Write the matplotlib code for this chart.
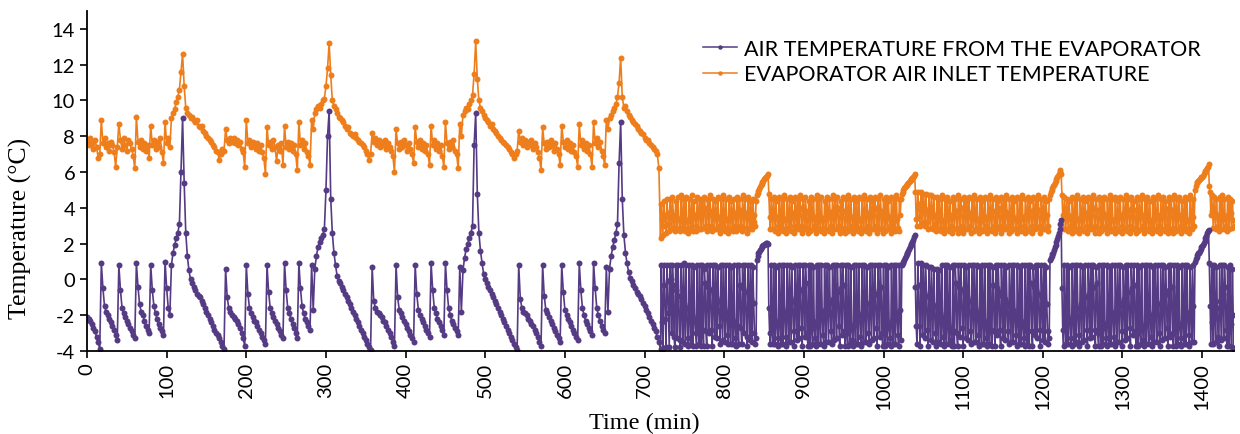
import numpy as np
import matplotlib
matplotlib.use("Agg")
import matplotlib.pyplot as plt

# ---------------- DATA ----------------
# First half: readings every 2 min (t = 0 ... 718)
outlet_c0 = [-2.1, -2.2, -2.3, -2.5, -2.7, -2.9, -3.2, -3.5, -3.9,
             0.9, -0.5, -1.5, -1.8, -2.0, -2.2, -2.4, -2.6, -2.8, -3.1, -3.4,
             0.8, -0.6, -1.6, -1.9, -2.1, -2.3, -2.5, -2.7, -2.9, -3.1, -3.3,
             0.9, -0.4, -1.4, -1.8, -2.0, -2.3, -2.6, -2.8, -3.0,
             0.8, -0.6, -1.5, -1.9, -2.2, -2.5, -2.7, -2.9, -3.1,
             1.0, -0.5, -1.6, -2.0,
             0.8, 1.5, 1.9, 2.3, 2.6, 3.1, 6.0]
outlet_c1 = [9.0, 5.4, 2.6, 1.3, 0.5, 0.0, -0.2, -0.4, -0.6, -0.8, -0.9, -1.0, -1.2, -1.4,
             -1.6, -1.8, -2.0, -2.2, -2.4, -2.6, -2.8, -3.0, -3.1, -3.3, -3.5, -3.7, -3.9,
             0.6, -1.0, -1.6, -1.8, -2.0, -2.1, -2.2, -2.3, -2.5, -2.7, -3.0, -3.3, -3.7,
             0.8, -0.8, -1.6, -1.9, -2.1, -2.3, -2.4, -2.6, -2.8, -3.0, -3.2, -3.4, -3.6,
             0.8, -0.7, -1.6, -1.9, -2.1, -2.3, -2.5, -2.7, -2.9, -3.1, -3.3,
             0.9, -0.6, -1.6, -1.9, -2.2, -2.5, -2.7, -3.0, -3.3,
             0.9, -0.5, -1.5, -1.9, -2.2, -2.4, -2.6, -2.8,
             0.8, -1.7, 0.6, 1.3, 1.8, 2.1, 2.3, 2.5, 2.8, 5.0, 8.0]
outlet_c2 = [9.4, 4.5, 2.6, 1.5, 0.8, 0.2, -0.1, -0.2, -0.4, -0.6, -0.8, -1.0, -1.2, -1.4,
             -1.6, -1.8, -2.0, -2.2, -2.4, -2.6, -2.8, -3.0, -3.2, -3.4, -3.6, -3.8, -3.95,
             0.7, -1.2, -1.6, -1.8, -1.9, -2.0, -2.1, -2.3, -2.4, -2.6, -2.8, -3.0, -3.2, -3.5, -3.7,
             0.8, -1.0, -1.7, -1.9, -2.1, -2.3, -2.5, -2.7, -2.9, -3.1, -3.3, -3.5,
             0.8, -0.8, -1.7, -2.0, -2.2, -2.4, -2.6, -2.8, -3.0, -3.2,
             0.9, -0.6, -1.6, -1.9, -2.2, -2.4, -2.6, -2.8, -3.1,
             0.9, -0.6, -1.6, -2.0, -2.3, -2.5, -2.7, -2.9, -3.1,
             0.7, -1.8, 0.5, 1.2, 1.7, 2.0, 2.3, 2.6, 3.0, 7.5]
outlet_c3 = [9.3, 4.8, 2.6, 1.6, 0.9, 0.3, 0.0, -0.2, -0.4, -0.6, -0.8, -1.0, -1.2, -1.4,
             -1.6, -1.8, -2.0, -2.2, -2.4, -2.6, -2.8, -3.0, -3.2, -3.4, -3.6, -3.8, -3.95,
             0.8, -1.1, -1.6, -1.8, -1.9, -2.0, -2.2, -2.3, -2.5, -2.6, -2.8, -3.0, -3.2, -3.5, -3.7,
             0.8, -0.9, -1.7, -1.9, -2.1, -2.3, -2.5, -2.7, -2.9, -3.1, -3.3, -3.5,
             0.8, -0.7, -1.7, -2.0, -2.2, -2.4, -2.6, -2.8, -3.0, -3.2, -3.4,
             0.9, -0.6, -1.6, -2.0, -2.3, -2.5, -2.7, -2.9, -3.1,
             0.9, -0.5, -1.6, -2.0, -2.3, -2.6, -2.8, -3.0,
             0.7, -1.8, 0.6, 1.3, 1.8, 2.2, 2.6, 3.1, 6.5]
outlet_c4 = [8.8, 4.5, 2.5, 1.5, 0.9, 0.4, 0.1, -0.1, -0.3, -0.5, -0.7, -0.8, -0.95,
             -1.1, -1.3, -1.5, -1.7, -1.9, -2.1, -2.3, -2.5, -2.7, -2.9, -3.2, -3.5]

inlet_c0 = [7.7, 7.5, 7.9, 7.6, 7.3, 7.8, 7.4, 6.8, 7.0,
            8.9, 7.6, 7.9, 7.4, 7.6, 7.2, 7.7, 7.5, 7.1, 6.3, 7.4,
            8.7, 7.8, 7.3, 7.9, 7.5, 7.2, 7.8, 7.6, 7.3, 6.9, 6.2,
            9.1, 7.7, 7.4, 7.8, 7.3, 7.6, 7.2, 7.5, 6.8,
            8.6, 7.5, 7.8, 7.3, 7.7, 7.4, 7.9, 7.1, 6.5,
            8.8, 7.6, 7.9, 7.4,
            9.0, 9.3, 9.5, 9.9, 10.2, 10.6, 11.6]
inlet_c1 = [12.6, 10.8, 9.6, 9.3, 9.2, 9.0, 9.1, 8.9, 8.8, 8.9, 8.6, 8.5, 8.6, 8.3,
            8.2, 8.0, 7.9, 7.8, 7.7, 7.5, 7.4, 7.2, 7.1, 6.7, 7.0, 7.3, 7.2,
            8.4, 7.8, 7.6, 7.9, 7.7, 7.9, 7.6, 7.8, 7.5, 7.7, 7.3, 7.1, 6.3,
            8.9, 7.6, 7.8, 7.4, 7.7, 7.5, 7.3, 7.6, 7.2, 7.5, 7.1, 6.8, 5.9,
            8.5, 7.5, 7.7, 7.3, 7.8, 7.4, 6.6, 7.5, 7.2, 7.6, 6.4,
            8.6, 7.4, 7.7, 7.3, 7.6, 7.2, 7.5, 7.0, 6.1,
            8.8, 7.5, 7.8, 7.3, 7.6, 7.1, 6.9, 6.4,
            8.9, 8.4, 9.3, 9.5, 9.7, 9.6, 9.8, 10.0, 10.1, 10.8, 11.8]
inlet_c2 = [13.2, 11.4, 10.0, 9.7, 9.5, 9.3, 9.1, 9.0, 8.9, 8.8, 8.6, 8.4, 8.5, 8.2,
            8.1, 8.0, 8.1, 7.9, 7.8, 7.7, 7.6, 7.5, 7.4, 7.2, 7.0, 6.7, 7.0,
            8.2, 7.7, 7.9, 7.5, 7.8, 7.4, 7.7, 7.5, 7.8, 7.3, 7.6, 7.4, 7.2, 6.9, 6.0,
            8.4, 7.6, 7.3, 7.7, 7.4, 7.8, 7.5, 7.2, 7.6, 7.3, 7.0, 6.5,
            8.5, 7.7, 7.4, 7.8, 7.3, 7.6, 7.2, 7.5, 7.0, 6.4,
            8.6, 7.5, 7.8, 7.3, 7.6, 7.2, 7.5, 6.9, 6.3,
            8.8, 7.6, 7.3, 7.7, 7.4, 7.8, 7.2, 7.0, 6.2,
            8.7, 8.0, 9.2, 9.4, 9.6, 9.5, 9.8, 10.0, 10.3, 11.5]
inlet_c3 = [13.3, 11.2, 10.0, 9.6, 9.4, 9.2, 9.0, 8.9, 8.8, 8.6, 8.7, 8.4, 8.3, 8.2,
            8.0, 7.9, 7.8, 7.7, 7.6, 7.5, 7.4, 7.3, 7.1, 7.0, 6.8, 7.0, 7.2,
            8.3, 7.7, 7.9, 7.5, 7.8, 7.4, 7.7, 7.5, 7.8, 7.3, 7.6, 7.4, 7.1, 6.8, 6.1,
            8.5, 7.6, 7.3, 7.7, 7.4, 7.8, 7.5, 7.2, 7.6, 7.3, 7.0, 6.4,
            8.6, 7.7, 7.4, 7.8, 7.3, 7.6, 7.2, 7.5, 7.1, 6.9, 6.3,
            8.7, 7.5, 7.8, 7.3, 7.6, 7.2, 7.5, 7.0, 6.3,
            8.8, 7.6, 7.9, 7.4, 7.7, 7.2, 6.9, 6.4,
            8.9, 8.4, 9.0, 9.2, 9.4, 9.6, 9.8, 10.2, 11.0]
inlet_c4 = [12.4, 10.2, 9.6, 9.7, 9.4, 9.2, 9.1, 8.9, 8.8, 8.7, 8.6, 8.4, 8.3,
            8.2, 8.1, 7.9, 7.8, 7.8, 7.6, 7.5, 7.4, 7.3, 7.2, 7.0, 6.2]

# Second half: readings every 1 min (t = 720 ... 1440)
outlet_d1 = [-3.9, 0.8, -2.4, -3.9, 0.8, -0.3, -2.2, -3.8, 0.8, -0.1, -1.9, -3.8,
             0.8, 0.0, -3.0, 0.8, -0.3, -3.2, -3.8, 0.8, -0.6, -3.3, 0.8, -0.9,
             -3.4, -3.8, 0.8, -1.2, -3.5, 0.9, -1.4, -3.6, 0.8, -1.6, -3.3, -3.7,
             0.8, -1.8, -3.6, 0.8, -2.0, -3.7, 0.7, -2.2, -3.0, -3.7, 0.8, -2.4,
             -3.6, 0.8, -2.6, -3.7, 0.8, -2.8, -3.7, 0.6, -0.2, -2.9, -3.7, 0.8,
             -0.4, -3.0, 0.8, -0.6, -2.8, -3.7, 0.8, -0.8, -3.2, 0.8, -1.0, -3.3,
             0.7, -1.2, -2.6, -3.6, 0.8, -1.4, -3.4, 0.8, -1.6, -3.5, 0.8, -1.8,
             -3.1, -3.6, 0.8, -2.0, -3.6, 0.7, -2.2, -3.6, 0.8, -2.4, -3.3, -3.7,
             0.8, -2.6, -3.6, 0.8, -0.3, -2.7, -3.6, 0.8, -0.5, -3.0, 0.8, -0.7,
             -3.2, -3.7, 0.8, -0.9, -3.4, 0.8, -1.1, -3.5, 0.7, -1.3, -3.0, -3.6]
outlet_b1 = [-3.3, 1.1, 1.3, 1.45, 1.55, 1.65, 1.72, 1.8, 1.85, 1.9, 1.95, 1.98,
             2.0, 2.03, 2.02, 1.98, -1.6, -3.0]
outlet_d2 = [-3.6, 0.8, -2.8, -3.6, 0.8, -2.6, -3.6, 0.7, -2.4, -3.3, -3.7, 0.8,
             -2.2, -3.6, 0.8, -2.0, -3.6, 0.8, -1.8, -3.2, -3.7, 0.8, -1.6, -3.5,
             0.8, -1.4, -3.5, 0.7, -1.2, -2.9, -3.7, 0.8, -1.0, -3.4, 0.8, -0.8,
             -3.3, 0.8, -0.6, -2.7, -3.7, 0.8, -0.4, -3.2, 0.8, -0.2, -3.0, -3.7,
             0.8, -2.9, -3.7, 0.8, -2.7, -3.6, 0.7, -2.5, -3.3, -3.7, 0.8, -2.3,
             -3.6, 0.8, -2.1, -3.6, 0.8, -1.9, -3.1, -3.7, 0.8, -1.7, -3.5, 0.8,
             -1.5, -3.5, 0.7, -1.3, -2.9, -3.6, 0.8, -1.1, -3.4, 0.8, -0.9, -3.3,
             0.8, -0.7, -2.6, -3.7, 0.8, -0.5, -3.1, 0.8, -0.3, -2.9, -3.7, 0.8,
             -3.0, -3.7, 0.8, -2.8, -3.6, 0.7, -2.6, -3.4, -3.7, 0.8, -2.4, -3.6,
             0.8, -2.2, -3.6, 0.8, -2.0, -3.2, -3.7, 0.8, -1.8, -3.5, 0.8, -1.6,
             -3.5, 0.7, -1.4, -3.0, -3.6, 0.8, -1.2, -3.4, 0.8, -1.0, -3.3, 0.8,
             -0.8, -2.7, -3.7, 0.8, -0.6, -3.2, 0.8, -0.4, -3.0, -3.7, 0.8, -2.9,
             -3.7, 0.8, -2.7, -3.6, 0.7, -2.5, -3.3, -3.7, 0.8, -2.3, -3.6, 0.8,
             -2.1, -3.6, 0.8, -1.9, -3.1, -3.7, 0.8, -1.7]
outlet_b2 = [-3.4, 0.8, 0.9, 1.0, 1.1, 1.2, 1.3, 1.4, 1.5, 1.6, 1.7, 1.8, 1.9, 2.0,
             2.1, 2.2, 2.35, 2.5, -0.4, -2.6]
outlet_d3 = [-3.6, 0.9, -0.3, -2.6, -3.7, 0.9, -0.5, -3.1, 0.8, -0.7, -3.3, 0.8,
             -0.9, -2.8, -3.7, 0.7, -1.1, -3.4, 0.7, -1.3, -3.5, 0.6, -1.5, -3.0,
             -3.7, 0.6, -1.7, -3.5, 0.5, -1.9, -3.6, 0.8, -2.1, -3.2, -3.7, 0.8,
             -2.3, -3.6, 0.8, -2.5, -3.6, 0.7, -2.7, -3.4, -3.7, 0.8, -2.9, -3.7,
             0.8, -0.2, -3.0, -3.7, 0.8, -0.4, -3.2, 0.8, -0.6, -2.7, -3.7, 0.8,
             -0.8, -3.3, 0.7, -1.0, -3.4, 0.8, -1.2, -2.9, -3.6, 0.8, -1.4, -3.5,
             0.8, -1.6, -3.5, 0.8, -1.8, -3.1, -3.7, 0.7, -2.0, -3.6, 0.8, -2.2,
             -3.6, 0.8, -2.4, -3.3, -3.7, 0.8, -2.6, -3.6, 0.8, -2.8, -3.7, 0.7,
             -0.3, -2.9, -3.7, 0.8, -0.5, -3.1, 0.8, -0.7, -2.8, -3.7, 0.8, -0.9,
             -3.3, 0.8, -1.1, -3.4, 0.7, -1.3, -2.9, -3.6, 0.8, -1.5, -3.5, 0.8,
             -1.7, -3.5, 0.8, -1.9, -3.1, -3.7, 0.8, -2.1, -3.6, 0.7, -2.3, -3.6,
             0.8, -2.5, -3.3, -3.7, 0.8, -2.7, -3.6, 0.8, -2.9, -3.7, 0.8, -0.2,
             -2.9, -3.7, 0.7, -0.4, -3.1, 0.8, -0.6, -3.3, 0.8, -0.8, -2.8, -3.7,
             0.8, -1.0, -3.4, 0.8, -1.2, -3.5, 0.7, -1.4, -2.9, -3.6]
outlet_b3 = [-3.3, 1.1, 1.2, 1.3, 1.4, 1.5, 1.65, 1.8, 1.95, 2.1, 2.25, 2.4, 2.6,
             2.8, 3.1, 3.3, -0.5]
outlet_d4 = [-2.8, -3.7, 0.8, -2.6, -3.6, 0.8, -2.4, -3.6, 0.7, -2.2, -3.3, -3.7,
             0.8, -2.0, -3.6, 0.8, -1.8, -3.5, 0.8, -1.6, -3.1, -3.7, 0.8, -1.4,
             -3.5, 0.7, -1.2, -3.4, 0.8, -1.0, -2.8, -3.7, 0.8, -0.8, -3.3, 0.8,
             -0.6, -3.2, 0.8, -0.4, -2.8, -3.7, 0.7, -0.2, -3.0, -3.7, 0.8, -2.9,
             -3.7, 0.8, -2.7, -3.6, 0.8, -2.5, -3.3, -3.7, 0.8, -2.3, -3.6, 0.7,
             -2.1, -3.6, 0.8, -1.9, -3.2, -3.7, 0.8, -1.7, -3.5, 0.8, -1.5, -3.5,
             0.8, -1.3, -2.9, -3.7, 0.7, -1.1, -3.4, 0.8, -0.9, -3.3, 0.8, -0.7,
             -2.7, -3.7, 0.8, -0.5, -3.1, 0.8, -0.3, -2.9, -3.7, 0.8, -3.0, -3.7,
             0.7, -2.8, -3.6, 0.8, -2.6, -3.4, -3.7, 0.8, -2.4, -3.6, 0.8, -2.2,
             -3.6, 0.8, -2.0, -3.2, -3.7, 0.7, -1.8, -3.5, 0.8, -1.6, -3.5, 0.8,
             -1.4, -3.0, -3.7, 0.8, -1.2, -3.4, 0.8, -1.0, -3.3, 0.7, -0.8, -2.7,
             -3.7, 0.8, -0.6, -3.2, 0.8, -0.4, -3.0, -3.7, 0.8, -2.9, -3.7, 0.8,
             -2.7, -3.6, 0.7, -2.5, -3.3, -3.7, 0.8, -2.3, -3.6, 0.8, -2.1, -3.6,
             0.8, -1.9, -3.1, -3.7, 0.7, -1.7, -3.5, 0.8, -1.5, -3.5]
outlet_b4 = [1.0, 1.15, 1.25, 1.35, 1.45, 1.5, 1.6, 1.7, 1.8, 1.85, 1.95, 2.05,
             2.15, 2.3, 2.45, 2.6, 2.7, 2.75, 0.9, -1.5]
outlet_d5 = [-3.6, 0.8, -2.4, -3.6, 0.8, -2.0, -3.5, 0.7, -1.6, -3.2, -3.7, 0.8,
             -1.2, -3.4, 0.8, -0.8, -3.3, 0.8, -0.4, -2.8, -3.7, 0.7, -2.9, -3.7,
             0.8, -2.5, -3.8, 0.6, -2.0, -3.9]

inlet_d1 = [2.3, 4.2, 3.3, 2.5, 4.4, 3.6, 3.0, 2.6, 4.5, 3.7, 3.1, 2.7,
            4.5, 3.8, 2.8, 4.6, 3.6, 2.9, 2.7, 4.4, 3.5, 2.8, 4.6, 3.4,
            2.9, 2.7, 4.7, 3.3, 2.8, 4.5, 3.2, 2.7, 4.6, 3.3, 2.9, 2.6,
            4.5, 3.4, 2.8, 4.7, 3.5, 2.7, 4.4, 3.6, 3.0, 2.7, 4.6, 3.7,
            2.8, 4.5, 3.8, 2.8, 4.3, 3.9, 2.9, 4.6, 4.0, 3.0, 2.7, 4.5,
            3.9, 2.9, 4.7, 3.8, 3.0, 2.7, 4.5, 3.7, 2.8, 4.4, 3.6, 2.8,
            4.6, 3.5, 3.0, 2.6, 4.5, 3.4, 2.8, 4.7, 3.3, 2.7, 4.5, 3.4,
            2.9, 2.6, 4.6, 3.5, 2.8, 4.4, 3.6, 2.7, 4.5, 3.7, 3.0, 2.7,
            4.6, 3.8, 2.8, 4.5, 3.9, 3.0, 2.7, 4.7, 3.8, 2.9, 4.5, 3.7,
            2.9, 2.6, 4.6, 3.6, 2.8, 4.4, 3.5, 2.8, 4.5, 3.6, 3.2, 3.0]
inlet_b1 = [4.4, 4.7, 4.85, 4.95, 5.05, 5.15, 5.25, 5.35, 5.45, 5.5, 5.6, 5.65,
            5.7, 5.75, 5.8, 5.9, 4.8, 3.5]
inlet_d2 = [2.8, 4.5, 3.7, 2.8, 4.6, 3.6, 2.7, 4.4, 3.5, 3.0, 2.6, 4.6,
            3.4, 2.8, 4.5, 3.3, 2.7, 4.7, 3.4, 2.9, 2.6, 4.5, 3.5, 2.8,
            4.6, 3.6, 2.7, 4.4, 3.7, 3.0, 2.6, 4.6, 3.8, 2.8, 4.5, 3.9,
            2.8, 4.7, 4.0, 3.0, 2.6, 4.5, 3.9, 2.8, 4.6, 3.8, 2.9, 2.6,
            4.4, 3.7, 2.7, 4.6, 3.6, 2.8, 4.5, 3.5, 3.0, 2.6, 4.7, 3.4,
            2.8, 4.5, 3.3, 2.7, 4.6, 3.4, 2.9, 2.6, 4.4, 3.5, 2.8, 4.6,
            3.6, 2.7, 4.5, 3.7, 3.0, 2.6, 4.7, 3.8, 2.8, 4.5, 3.9, 2.8,
            4.6, 4.0, 3.0, 2.6, 4.4, 3.9, 2.8, 4.6, 3.8, 2.9, 2.6, 4.5,
            3.7, 2.7, 4.7, 3.6, 2.8, 4.5, 3.5, 3.0, 2.6, 4.6, 3.4, 2.8,
            4.4, 3.3, 2.7, 4.6, 3.4, 2.9, 2.6, 4.5, 3.5, 2.8, 4.7, 3.6,
            2.7, 4.5, 3.7, 3.0, 2.6, 4.6, 3.8, 2.8, 4.4, 3.9, 2.8, 4.6,
            4.0, 3.0, 2.6, 4.5, 3.9, 2.8, 4.7, 3.8, 2.9, 2.6, 4.5, 3.7,
            2.7, 4.6, 3.6, 2.8, 4.4, 3.5, 3.0, 2.6, 4.6, 3.4, 2.8, 4.5,
            3.3, 2.7, 4.7, 3.4, 2.9, 2.7, 4.5, 3.6]
inlet_b2 = [4.5, 4.8, 4.9, 5.0, 5.1, 5.15, 5.2, 5.3, 5.35, 5.4, 5.45, 5.5, 5.55,
            5.6, 5.65, 5.7, 5.8, 5.9, 4.9, 3.4]
inlet_d3 = [3.0, 4.9, 4.2, 3.5, 3.0, 4.9, 4.1, 3.2, 4.8, 4.0, 3.0, 4.8,
            3.9, 3.2, 2.8, 4.7, 3.8, 2.9, 4.7, 3.7, 2.8, 4.6, 3.6, 3.1,
            2.7, 4.6, 3.5, 2.8, 4.5, 3.4, 2.7, 4.7, 3.3, 2.9, 2.6, 4.5,
            3.4, 2.8, 4.6, 3.5, 2.7, 4.4, 3.6, 3.0, 2.6, 4.6, 3.7, 2.8,
            4.5, 3.8, 2.9, 2.6, 4.7, 3.9, 2.8, 4.5, 4.0, 3.0, 2.6, 4.6,
            3.9, 2.8, 4.4, 3.8, 2.8, 4.6, 3.7, 3.0, 2.6, 4.5, 3.6, 2.7,
            4.7, 3.5, 2.8, 4.5, 3.4, 2.9, 2.6, 4.6, 3.3, 2.7, 4.4, 3.4,
            2.8, 4.6, 3.5, 3.0, 2.6, 4.5, 3.6, 2.8, 4.7, 3.7, 2.7, 4.5,
            3.8, 3.0, 2.6, 4.6, 3.9, 2.8, 4.4, 4.0, 3.0, 2.6, 4.6, 3.9,
            2.8, 4.5, 3.8, 2.8, 4.7, 3.7, 3.0, 2.6, 4.5, 3.6, 2.7, 4.6,
            3.5, 2.8, 4.4, 3.4, 2.9, 2.6, 4.6, 3.3, 2.8, 4.5, 3.4, 2.7,
            4.7, 3.5, 3.0, 2.6, 4.5, 3.6, 2.8, 4.6, 3.7, 2.7, 4.4, 3.8,
            3.0, 2.6, 4.6, 3.9, 2.8, 4.5, 4.0, 2.9, 4.7, 3.9, 3.0, 2.6,
            4.5, 3.8, 2.8, 4.6, 3.7, 2.8, 4.4, 3.6, 3.0, 2.7]
inlet_b3 = [4.5, 4.7, 4.9, 5.0, 5.1, 5.2, 5.3, 5.4, 5.5, 5.6, 5.7, 5.8, 5.9,
            6.0, 6.1, 5.9, 4.7]
inlet_d4 = [3.6, 2.8, 4.6, 3.7, 2.8, 4.5, 3.6, 2.7, 4.4, 3.5, 3.0, 2.6,
            4.6, 3.4, 2.8, 4.5, 3.3, 2.7, 4.7, 3.4, 2.9, 2.6, 4.5, 3.5,
            2.8, 4.6, 3.6, 2.7, 4.4, 3.7, 3.0, 2.6, 4.6, 3.8, 2.8, 4.5,
            3.9, 2.8, 4.7, 4.0, 3.0, 2.6, 4.5, 3.9, 2.9, 2.6, 4.6, 3.8,
            2.7, 4.4, 3.7, 2.8, 4.6, 3.6, 3.0, 2.6, 4.5, 3.5, 2.8, 4.7,
            3.4, 2.7, 4.5, 3.3, 2.9, 2.6, 4.6, 3.4, 2.8, 4.4, 3.5, 2.7,
            4.6, 3.6, 3.0, 2.6, 4.5, 3.7, 2.8, 4.7, 3.8, 2.7, 4.5, 3.9,
            3.0, 2.6, 4.6, 4.0, 2.8, 4.4, 3.9, 2.9, 2.6, 4.6, 3.8, 2.7,
            4.5, 3.7, 2.8, 4.7, 3.6, 3.0, 2.6, 4.5, 3.5, 2.8, 4.6, 3.4,
            2.7, 4.4, 3.3, 2.9, 2.6, 4.6, 3.4, 2.8, 4.5, 3.5, 2.7, 4.7,
            3.6, 3.0, 2.6, 4.5, 3.7, 2.8, 4.6, 3.8, 2.7, 4.4, 3.9, 3.0,
            2.6, 4.6, 4.0, 2.8, 4.5, 3.9, 2.9, 2.6, 4.7, 3.8, 2.7, 4.5,
            3.7, 2.8, 4.6, 3.6, 3.0, 2.6, 4.4, 3.5, 2.8, 4.6, 3.4, 2.7,
            4.5, 3.3, 2.9, 2.6, 4.7, 3.4, 2.8, 4.5, 3.5, 3.0]
inlet_b4 = [5.0, 5.2, 5.4, 5.45, 5.5, 5.55, 5.6, 5.65, 5.7, 5.75, 5.8, 5.9,
            6.0, 6.05, 6.1, 6.2, 6.3, 6.45, 5.2, 4.9]
inlet_d5 = [3.6, 4.7, 3.8, 2.9, 4.6, 3.7, 2.8, 4.5, 3.6, 3.0, 2.7, 4.6,
            3.5, 2.8, 4.7, 3.4, 2.8, 4.5, 3.5, 3.0, 2.7, 4.6, 3.6, 2.8,
            4.5, 3.7, 2.9, 4.4, 3.3, 3.0]

x_ticks = list(range(0, 1401, 100))
y_ticks = list(range(-4, 15, 2))
label_outlet = "AIR TEMPERATURE FROM THE EVAPORATOR"
label_inlet = "EVAPORATOR AIR INLET TEMPERATURE"

# --------------- assemble ---------------
def series(first, second):
    y1 = np.array(first, dtype=float)
    y2 = np.array(second, dtype=float)
    t1 = 2.0 * np.arange(len(y1))
    t2 = 720.0 + np.arange(len(y2))
    return np.concatenate([t1, t2]), np.concatenate([y1, y2])

t_out, y_out = series(outlet_c0 + outlet_c1 + outlet_c2 + outlet_c3 + outlet_c4,
                      outlet_d1 + outlet_b1 + outlet_d2 + outlet_b2 + outlet_d3 +
                      outlet_b3 + outlet_d4 + outlet_b4 + outlet_d5)
t_in, y_in = series(inlet_c0 + inlet_c1 + inlet_c2 + inlet_c3 + inlet_c4,
                    inlet_d1 + inlet_b1 + inlet_d2 + inlet_b2 + inlet_d3 +
                    inlet_b3 + inlet_d4 + inlet_b4 + inlet_d5)

# --------------- plot ---------------
plt.rcParams['font.family'] = ['Lato', 'DejaVu Sans']
plt.rcParams['axes.unicode_minus'] = False

W, H = 1240, 435
fig = plt.figure(figsize=(W / 100, H / 100), dpi=100)
ax = fig.add_axes([87 / W, 1 - 352 / H, (1234 - 87) / W, (352 - 12) / H])

purple = '#553a84'
orange = '#ee7d1c'

l_in, = ax.plot(t_in, y_in, '-o', color=orange, lw=1.2, ms=4.3, mew=0, label=label_inlet)
l_out, = ax.plot(t_out, y_out, '-o', color=purple, lw=1.2, ms=4.3, mew=0, label=label_outlet)

ax.set_xlim(0, 1440)
ax.set_ylim(-4, 15)
ax.set_xticks(x_ticks)
ax.set_yticks(y_ticks)
ax.set_xticklabels([str(v) for v in x_ticks], rotation=90)
ax.tick_params(axis='both', direction='out', length=5, width=1.2, labelsize=14.5, colors='black')
ax.tick_params(axis='x', pad=3)
for s in ['top', 'right']:
    ax.spines[s].set_visible(False)
for s in ['left', 'bottom']:
    ax.spines[s].set_linewidth(1.3)
    ax.spines[s].set_color('black')

leg = ax.legend(handles=[l_out, l_in], loc='upper left', frameon=False,
                bbox_to_anchor=(703 / W, 1 - 40 / H), bbox_transform=fig.transFigure,
                borderpad=0, borderaxespad=0, handlelength=1.6, handletextpad=0.3,
                labelspacing=0.25, prop={'family': 'Lato', 'size': 15.5})
for h in leg.legend_handles:
    h.set_markersize(3.2)
    h.set_linewidth(1.1)

fig.text(644 / W, 1 - 423 / H, 'Time (min)', ha='center', va='center',
         family='Liberation Serif', fontsize=17.5)
fig.text(20 / W, 1 - 228 / H, 'Temperature (\u00b0C)', ha='center', va='center',
         rotation=90, family='Liberation Serif', fontsize=18.5)

fig.savefig('out.png', dpi=100)
